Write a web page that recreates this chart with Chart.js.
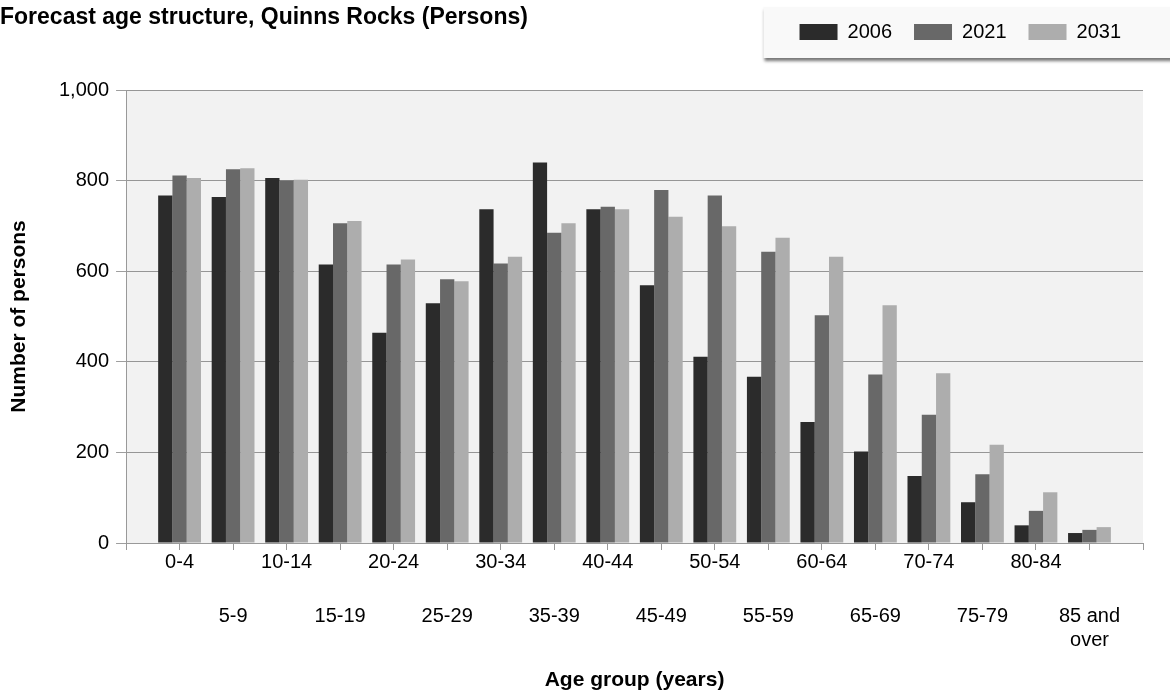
<!DOCTYPE html>
<html>
<head>
<meta charset="utf-8">
<title>Forecast age structure, Quinns Rocks</title>
<script src="https://cdn.jsdelivr.net/npm/chart.js@4.4.1/dist/chart.umd.min.js"></script>
<style>
  body { margin: 0; background: #fff; }
  #wrap { width: 1170px; height: 695px; position: relative; }
</style>
</head>
<body>
<div id="wrap"><canvas id="ageChart"></canvas></div>
<script>
// data
const categories = ["0-4", "5-9", "10-14", "15-19", "20-24", "25-29", "30-34", "35-39", "40-44",
  "45-49", "50-54", "55-59", "60-64", "65-69", "70-74", "75-79", "80-84", "85 and over"];
const years = ["2006", "2021", "2031"];
const values2006 = [767, 764, 806, 615, 464, 529, 737, 840, 737, 569, 411, 367, 267, 202, 148, 90, 39, 22];
const values2021 = [811, 825, 800, 706, 615, 582, 617, 685, 742, 779, 767, 643, 503, 372, 283, 152, 71, 29];
const values2031 = [806, 827, 802, 711, 626, 578, 632, 706, 737, 720, 699, 674, 632, 525, 375, 217, 112, 35];
const yMin = 0, yMax = 1000, yStep = 200;

const colours = ["#2b2b2b", "#686868", "#adadad"];

// one empty slot each side, like the original axis
const axisLabels = [""].concat(categories, [""]);
function pad(arr) { return [null].concat(arr, [null]); }

// even groups on the first row, odd groups on the second
function rowLabel(index, row) {
  const i = index - 1;
  if (i < 0 || i >= categories.length || i % 2 !== row) return "";
  const txt = categories[i];
  return txt === "85 and over" ? ["85 and", "over"] : txt;
}

// grey plot background + legend panel
const backdrop = {
  id: "backdrop",
  beforeDraw(chart) {
    const ctx = chart.ctx, a = chart.chartArea;
    ctx.save();
    ctx.fillStyle = "#f2f2f2";
    ctx.fillRect(a.left, a.top, a.right - a.left, a.bottom - a.top);
    const hb = chart.legend.legendHitBoxes;
    if (hb && hb.length) {
      const x = hb[0].left - 36;
      const y = hb[0].top - 15;
      ctx.shadowColor = "rgba(0,0,0,0.55)";
      ctx.shadowOffsetY = 3;
      ctx.shadowBlur = 3;
      ctx.fillStyle = "#f9f9f9";
      ctx.fillRect(x, y, chart.width - x + 20, 51);
    }
    ctx.restore();
  }
};

Chart.defaults.font.family = "'Liberation Sans', Arial, sans-serif";
Chart.defaults.color = "#000";

new Chart("ageChart", {
  type: "bar",
  data: {
    labels: axisLabels,
    datasets: [
      { label: years[0], data: pad(values2006), backgroundColor: colours[0] },
      { label: years[1], data: pad(values2021), backgroundColor: colours[1] },
      { label: years[2], data: pad(values2031), backgroundColor: colours[2] }
    ]
  },
  options: {
    responsive: true,
    maintainAspectRatio: false,
    animation: false,
    datasets: { bar: { categoryPercentage: 0.8, barPercentage: 1.0 } },
    layout: { padding: { left: 0, right: 27, top: 0, bottom: 0 } },
    plugins: {
      tooltip: { enabled: false },
      legend: {
        position: "top",
        align: "end",
        weight: 1000,
        labels: { boxWidth: 38, boxHeight: 16, padding: 22, font: { size: 20 }, color: "#000" }
      },
      title: {
        display: true,
        text: "Forecast age structure, Quinns Rocks (Persons)",
        align: "start",
        weight: 500,
        font: { size: 23, weight: "bold" },
        color: "#000",
        padding: { top: -47.8, bottom: 58.2 }
      }
    },
    scales: {
      x: {
        type: "category",
        offset: false,
        z: 1,
        grid: { offset: false, drawOnChartArea: false, drawTicks: true, tickLength: 7, color: "#999" },
        border: { color: "#999" },
        ticks: {
          autoSkip: false, maxRotation: 0, minRotation: 0, padding: 0,
          font: { size: 20 }, color: "#000",
          callback: function(value, index) { return rowLabel(index, 0); }
        }
      },
      x2: {
        type: "category",
        position: "bottom",
        offset: false,
        weight: 1,
        grid: { offset: false, drawOnChartArea: false, drawTicks: true, tickLength: 30.5, color: "rgba(0,0,0,0)" },
        border: { display: false },
        ticks: {
          autoSkip: false, maxRotation: 0, minRotation: 0, padding: 0,
          font: { size: 20 }, color: "#000",
          callback: function(value, index) { return rowLabel(index, 1); }
        },
        title: {
          display: true,
          text: "Age group (years)",
          font: { size: 21, weight: "bold" },
          color: "#000",
          padding: { top: 14.9, bottom: 2.4 }
        }
      },
      y: {
        min: yMin,
        max: yMax,
        z: 1,
        grid: { color: "rgba(0,0,0,0.38)", tickLength: 10 },
        border: { color: "#999" },
        ticks: {
          stepSize: yStep, padding: 7,
          font: { size: 20 }, color: "#000",
          callback: function(v) { return v.toLocaleString("en-US"); }
        },
        title: {
          display: true,
          text: "Number of persons",
          font: { size: 21, weight: "bold" },
          color: "#000",
          padding: { top: 6.4, bottom: 20.4 }
        }
      }
    }
  },
  plugins: [backdrop]
});
</script>
</body>
</html>
